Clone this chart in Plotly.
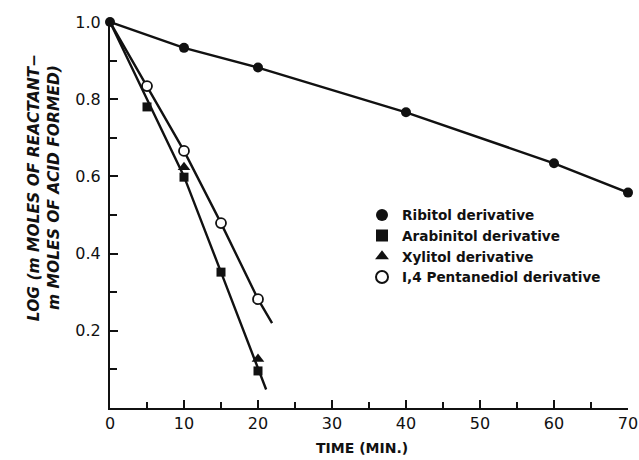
import plotly.graph_objects as go

# ---- data ----
ribitol_t = [0, 10, 20, 40, 60, 70]
ribitol_y = [1.0, 0.933, 0.882, 0.766, 0.634, 0.558]

arab_t = [5, 10, 15, 20]
arab_y = [0.78, 0.598, 0.352, 0.096]

xyl_t = [10, 20]
xyl_y = [0.624, 0.127]

pent_t = [5, 10, 15, 20]
pent_y = [0.834, 0.666, 0.479, 0.282]

# drawn trend lines (as in the figure)
arab_fit_t = [0, 10, 15, 21.1]
arab_fit_y = [1.0, 0.60, 0.352, 0.048]
pent_fit_t = [0, 5, 10, 15, 20, 21.9]
pent_fit_y = [1.0, 0.834, 0.666, 0.479, 0.282, 0.22]

x_ticks = [0, 10, 20, 30, 40, 50, 60, 70]
y_ticks = [0.2, 0.4, 0.6, 0.8, 1.0]
y_tick_text = ["0.2", "0.4", "0.6", "0.8", "1.0"]

names = ["Ribitol derivative", "Arabinitol derivative",
         "Xylitol derivative", "I,4 Pentanediol derivative"]

INK = "#111111"
LW = 2.4

fig = go.Figure()

# lines
for tx, ty in [(ribitol_t, ribitol_y), (arab_fit_t, arab_fit_y), (pent_fit_t, pent_fit_y)]:
    fig.add_trace(go.Scatter(x=tx, y=ty, mode="lines", showlegend=False,
                             line=dict(color=INK, width=LW), hoverinfo="skip",
                             cliponaxis=False))

# markers
fig.add_trace(go.Scatter(x=ribitol_t, y=ribitol_y, mode="markers", name=names[0],
                         marker=dict(symbol="circle", size=10, color=INK), cliponaxis=False))
fig.add_trace(go.Scatter(x=arab_t, y=arab_y, mode="markers", name=names[1],
                         marker=dict(symbol="square", size=9, color=INK), cliponaxis=False))
fig.add_trace(go.Scatter(x=xyl_t, y=xyl_y, mode="markers", name=names[2],
                         marker=dict(symbol="triangle-up", size=11, color=INK), cliponaxis=False))
fig.add_trace(go.Scatter(x=pent_t, y=pent_y, mode="markers", name=names[3],
                         marker=dict(symbol="circle", size=10, color="white",
                                     line=dict(color=INK, width=1.8)), cliponaxis=False))

tick_font = dict(family="DejaVu Sans", size=16, color=INK)

fig.update_layout(
    width=639, height=460,
    margin=dict(l=110, r=11, t=22, b=52),
    paper_bgcolor="white", plot_bgcolor="white",
    showlegend=True,
    legend=dict(x=0.4865, y=0.54, xanchor="left", yanchor="top",
                font=dict(family="DejaVu Sans", size=13.6, color=INK, weight="bold"),
                bgcolor="rgba(0,0,0,0)", itemsizing="constant", tracegroupgap=0),
    xaxis=dict(range=[0, 70], tickvals=x_ticks, ticks="inside", ticklen=8,
               tickwidth=1.5, tickcolor=INK, showline=True, linecolor=INK,
               linewidth=2, showgrid=False, zeroline=False, tickfont=tick_font,
               minor=dict(dtick=5, ticks="inside", ticklen=6, tickwidth=1.5, tickcolor=INK),
               ticklabelstandoff=0, automargin=False),
    yaxis=dict(range=[0, 1.0], tickvals=y_ticks, ticktext=y_tick_text, ticks="inside",
               ticklen=8, tickwidth=1.5, tickcolor=INK, showline=True, linecolor=INK,
               linewidth=2, showgrid=False, zeroline=False, tickfont=tick_font,
               minor=dict(dtick=0.1, ticks="inside", ticklen=7, tickwidth=1.5, tickcolor=INK),
               ticklabelstandoff=4, automargin=False),
)

fig.add_annotation(
    text="LOG (m MOLES OF REACTANT−<br>m MOLES OF ACID FORMED)",
    xref="paper", yref="paper", x=-0.127, y=0.57, xanchor="center", yanchor="middle",
    textangle=-90, showarrow=False,
    font=dict(family="DejaVu Sans", size=15.5, color=INK, weight="bold", style="italic"),
)
fig.add_annotation(
    text="TIME (MIN.)", xref="paper", yref="paper", x=0.486, y=-0.104,
    xanchor="center", yanchor="middle", showarrow=False,
    font=dict(family="DejaVu Sans", size=14, color=INK, weight="bold"),
)

fig.write_html("out.html", config={"displayModeBar": False},
               post_script="document.body.style.margin='0px';document.body.style.padding='0px';")
